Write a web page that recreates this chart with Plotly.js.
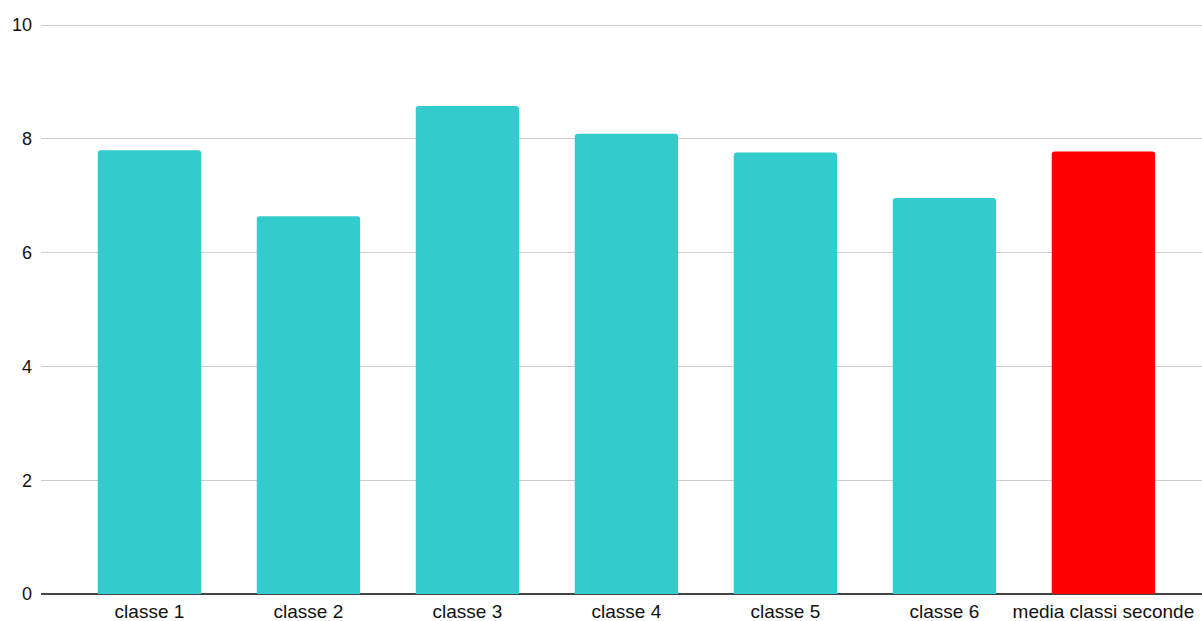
<!DOCTYPE html>
<html>
<head>
<meta charset="utf-8">
<script src="https://cdn.plot.ly/plotly-3.0.1.min.js"></script>
<style>
  html, body { margin: 0; padding: 0; background: #fff; }
  #chart { width: 1202px; height: 621px; }
</style>
</head>
<body>
<div id="chart"></div>
<script>
const categories = ["classe 1", "classe 2", "classe 3", "classe 4", "classe 5", "classe 6", "media classi seconde"];
const values = [7.80, 6.64, 8.58, 8.09, 7.76, 6.96, 7.78];
const averageCategory = "media classi seconde";
const yTickValues = [0, 2, 4, 6, 8, 10];

const TEAL = "#33CCCC";
const RED = "#FF0000";

const trace = {
  type: "bar",
  x: categories,
  y: values,
  marker: {
    color: categories.map(c => c === averageCategory ? RED : TEAL),
    cornerradius: 3,
    line: { width: 0 }
  },
  hoverinfo: "x+y"
};

const layout = {
  width: 1202,
  height: 621,
  margin: { l: 41, r: 0, t: 24, b: 27, pad: 0 },
  paper_bgcolor: "#ffffff",
  plot_bgcolor: "#ffffff",
  showlegend: false,
  bargap: 0.35,
  font: { family: "Liberation Sans, Arial, sans-serif", size: 18, color: "#111111" },
  xaxis: {
    type: "category",
    range: [-0.682, 6.62],
    showgrid: false,
    zeroline: false,
    showline: false,
    ticks: "",
    ticklabelstandoff: 4,
    tickfont: { size: 19, color: "#111111" },
    fixedrange: true
  },
  yaxis: {
    range: [0, 10.02],
    tickvals: yTickValues,
    ticktext: yTickValues.map(String),
    showgrid: true,
    gridcolor: "#cccccc",
    gridwidth: 1,
    zeroline: true,
    zerolinecolor: "#444444",
    zerolinewidth: 1.5,
    showline: false,
    ticks: "",
    ticklabelstandoff: 8,
    tickfont: { size: 18, color: "#111111" },
    fixedrange: true
  }
};

Plotly.newPlot("chart", [trace], layout, { displayModeBar: false, staticPlot: true });
</script>
</body>
</html>
